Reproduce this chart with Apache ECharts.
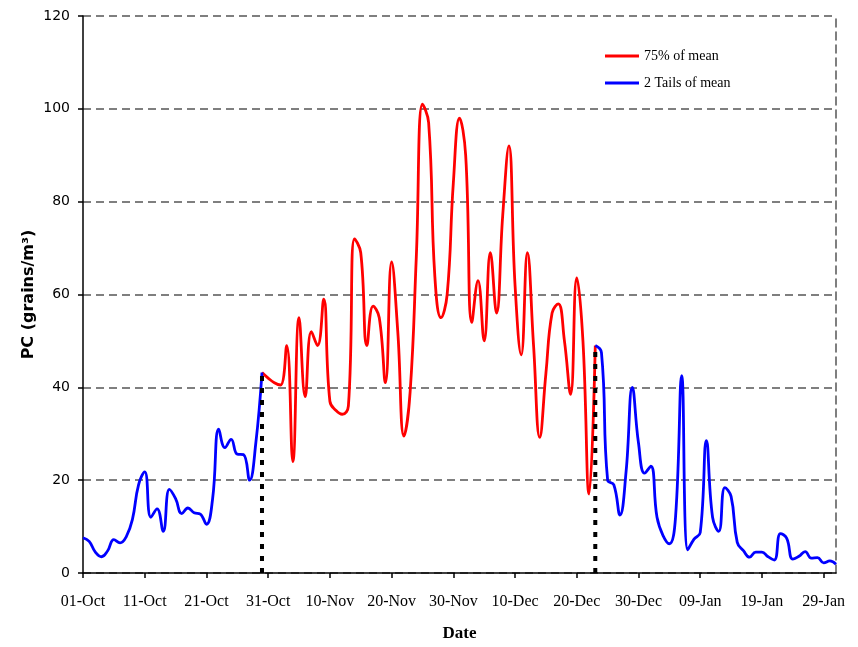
<!DOCTYPE html>
<html>
<head>
<meta charset="utf-8">
<script src="https://cdn.jsdelivr.net/npm/echarts@6/dist/echarts.min.js"></script>
<style>
  html, body { margin: 0; padding: 0; background: #ffffff; }
  #chart { width: 858px; height: 647px; }
</style>
</head>
<body>
<div id="chart"></div>
<script>
// Daily pollen concentration, 01-Oct to 31-Jan (grains/m3)
const seasonStart = new Date(Date.UTC(2000, 9, 1));
const dayCount = 123;
const monthNames = ['Jan','Feb','Mar','Apr','May','Jun','Jul','Aug','Sep','Oct','Nov','Dec'];

// Early tail: 01-Oct .. 30-Oct (day 0 .. 29)
const tailEarly = [7.6, 6.8, 4.5, 3.5, 4.8, 7.2, 6.5, 7.8, 11.5, 19,
                   21.8, 12, 13.8, 9, 18, 16, 12.8, 14, 13, 12.7,
                   10.5, 16, 31, 27, 28.8, 25.6, 25.5, 20, 28, 43.2];
// Main season (75% of mean): 30-Oct .. 23-Dec (day 29 .. 83)
const mainSeason = [43.2, 42, 41, 40.5, 49, 24, 55, 38, 52, 49,
                    59, 37, 35, 34.2, 36, 72, 69, 49, 57.5, 55,
                    41, 67, 52, 29.5, 39, 68, 101, 97, 64, 55,
                    60, 84, 98, 90, 54, 63, 50, 69, 56, 77,
                    92, 62, 47, 69, 49, 29.2, 43, 56, 58, 50,
                    38.5, 63.6, 50, 17, 49];
// Late tail: 23-Dec .. 31-Jan (day 83 .. 122)
const tailLate = [49, 47.5, 20, 19, 12.5, 22, 40, 28, 21.5, 23,
                  12, 8, 6.3, 12, 42.5, 5, 7.3, 8.7, 28.5, 12,
                  9, 18.4, 16.5, 6.6, 4.8, 3.4, 4.5, 4.5, 3.5, 2.8,
                  8.5, 7.5, 3, 3.6, 4.6, 3.2, 3.3, 2.2, 2.6, 1.9];

const mainStartDay = 29;
const lateStartDay = 83;

// Category labels: dd-Mon for every day of the season
const dates = [];
for (let i = 0; i < dayCount; i++) {
  const d = new Date(seasonStart.getTime() + i * 86400000);
  const dd = String(d.getUTCDate()).padStart(2, '0');
  dates.push(dd + '-' + monthNames[d.getUTCMonth()]);
}

// Full-length series with gaps
const tailsSeries = new Array(dayCount).fill(null);
tailEarly.forEach((v, i) => { tailsSeries[i] = v; });
tailLate.forEach((v, i) => { tailsSeries[lateStartDay + i] = v; });
const mainSeries = new Array(dayCount).fill(null);
mainSeason.forEach((v, i) => { mainSeries[mainStartDay + i] = v; });

const gridDash = { color: '#555', width: 1.5, type: [8, 5] };
const boundaryStyle = { color: '#000', width: 4, type: [5, 7] };

const chart = echarts.init(document.getElementById('chart'), null, { renderer: 'canvas' });
chart.setOption({
  animation: false,
  backgroundColor: '#ffffff',
  grid: { left: 83, right: 22, top: 16, bottom: 60, containLabel: false },
  legend: {
    orient: 'vertical',
    left: 600,
    top: 44,
    itemWidth: 34,
    itemHeight: 3,
    itemGap: 13,
    icon: 'rect',
    data: ['75% of mean', '2 Tails of mean'],
    textStyle: { fontFamily: 'Liberation Serif', fontSize: 14, color: '#000' }
  },
  xAxis: {
    type: 'category',
    data: dates,
    boundaryGap: false,
    name: 'Date',
    nameLocation: 'middle',
    nameGap: 52,
    nameMoveOverlap: false,
    nameTextStyle: { fontFamily: 'Liberation Serif', fontWeight: 'bold', fontSize: 17, color: '#000' },
    axisLine: { lineStyle: { color: '#000', width: 1.5 } },
    axisTick: { interval: 9, length: 5, lineStyle: { color: '#000', width: 1.5 } },
    axisLabel: {
      interval: 9,
      margin: 21,
      fontFamily: 'Liberation Serif',
      fontSize: 16,
      color: '#000'
    },
    splitLine: { show: false }
  },
  yAxis: [{
    type: 'value',
    min: 0,
    max: 120,
    interval: 20,
    name: 'PC (grains/m³)',
    nameLocation: 'middle',
    nameGap: 46,
    nameMoveOverlap: false,
    nameRotate: 90,
    nameTextStyle: { fontFamily: 'DejaVu Sans', fontWeight: 'bold', fontSize: 16, color: '#000' },
    axisLine: { show: true, lineStyle: { color: '#000', width: 1.5 } },
    axisTick: { show: true, length: 5, lineStyle: { color: '#000', width: 1.5 } },
    axisLabel: { margin: 13, fontFamily: 'DejaVu Sans', fontSize: 14, color: '#000' },
    splitLine: { show: true, lineStyle: gridDash }
  }, {
    type: 'value',
    min: 0,
    max: 120,
    interval: 20,
    position: 'right',
    axisLine: { show: true, lineStyle: gridDash },
    axisTick: { show: false },
    axisLabel: { show: false },
    splitLine: { show: false }
  }],
  series: [
    {
      name: '75% of mean',
      type: 'line',
      data: mainSeries,
      smooth: 0.45,
      showSymbol: false,
      connectNulls: false,
      color: '#ff0000',
      lineStyle: { color: '#ff0000', width: 2.8 },
      z: 3
    },
    {
      name: '2 Tails of mean',
      type: 'line',
      data: tailsSeries,
      smooth: 0.45,
      showSymbol: false,
      connectNulls: false,
      color: '#0000ff',
      lineStyle: { color: '#0000ff', width: 2.8 },
      z: 3
    },
    {
      name: 'season start',
      type: 'line',
      data: [[mainStartDay, 0], [mainStartDay, mainSeason[0]]],
      showSymbol: false,
      lineStyle: boundaryStyle,
      silent: true,
      z: 4
    },
    {
      name: 'season end',
      type: 'line',
      data: [[lateStartDay, 0], [lateStartDay, tailLate[0]]],
      showSymbol: false,
      lineStyle: boundaryStyle,
      silent: true,
      z: 4
    }
  ]
});
</script>
</body>
</html>
